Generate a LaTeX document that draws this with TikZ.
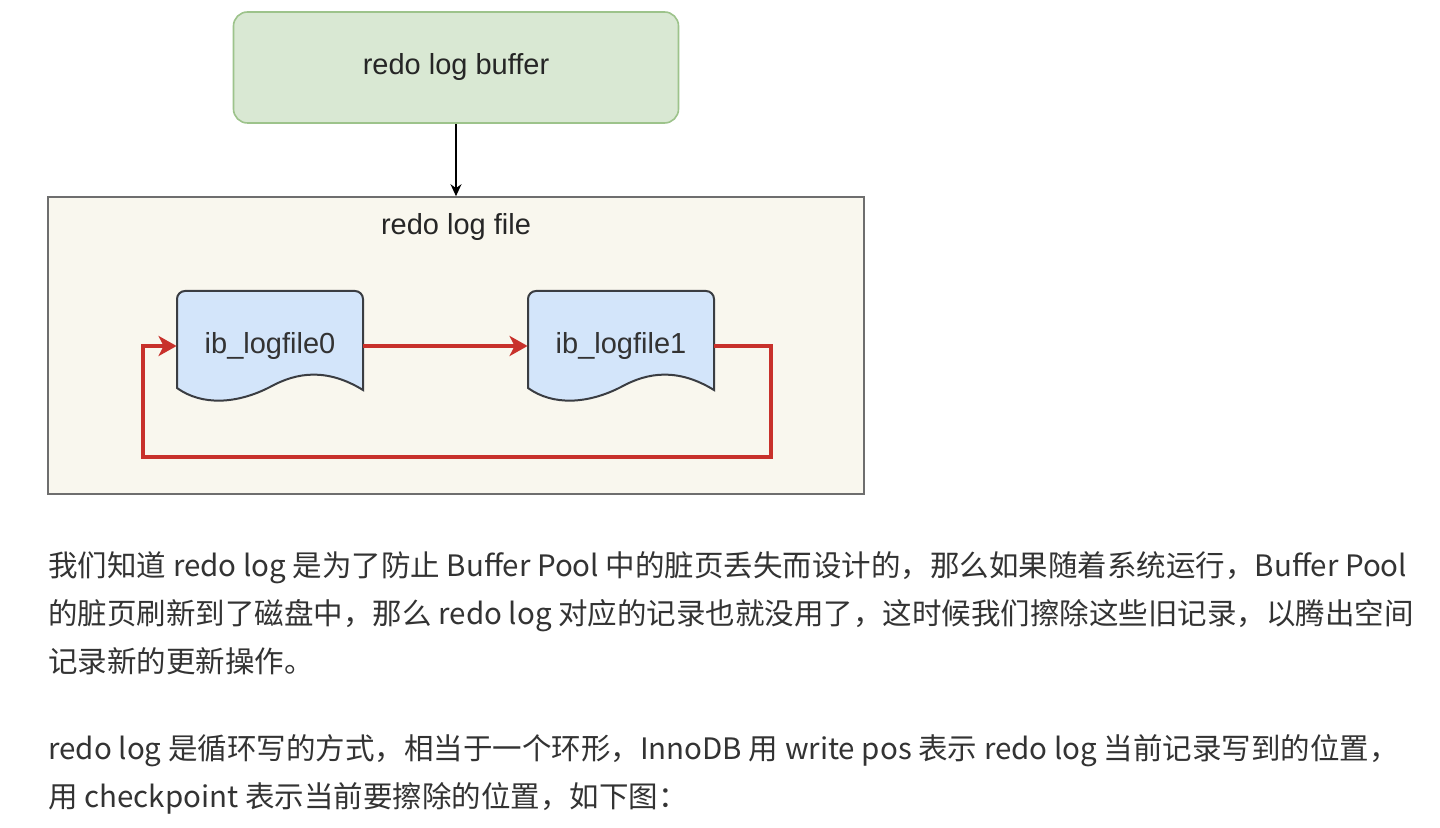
\documentclass[tikz,border=0pt]{standalone}
\usepackage{fontspec}
\setmainfont{Liberation Sans}
\newfontfamily\cjk{Noto Sans CJK SC}
\usetikzlibrary{arrows.meta}
\definecolor{bufgreen}{HTML}{D9E8D3}
\definecolor{bufedge}{HTML}{9DC38B}
\definecolor{filebg}{HTML}{F9F7EE}
\definecolor{fileedge}{HTML}{6E6E6E}
\definecolor{docblue}{HTML}{D3E5FA}
\definecolor{docedge}{HTML}{3A3D42}
\definecolor{loopred}{HTML}{C8312B}
\definecolor{inkgray}{HTML}{333333}
\tikzset{buffer box/.style={draw=bufedge,fill=bufgreen,line width=0.8pt,rounded corners=7pt,
    minimum width=222.5pt,minimum height=55.5pt,text=black!85,font=\fontsize{14.5}{17}\selectfont},
  file box/.style={draw=fileedge,fill=filebg,line width=0.8pt,minimum width=408pt,minimum height=148.5pt},
  label text/.style={text=black!85,font=\fontsize{14.5}{17}\selectfont,inner sep=0pt},
  docpage/.style={draw=docedge,fill=docblue,line width=1pt},
  log file/.style={minimum width=93pt,minimum height=24pt,inner sep=0pt,text=black!80,font=\fontsize{14.5}{17}\selectfont},
  feed/.style={-{Stealth[length=6pt,width=5.5pt]},line width=0.7pt,black},
  red flow/.style={-{Stealth[length=9pt,width=10pt,inset=2.5pt]},loopred,line width=1.7pt},
  body text/.style={anchor=base west,inner sep=0pt,text=inkgray,font=\cjk\fontsize{14.75}{24}\selectfont},
}

\begin{document}
\begin{tikzpicture}[x=0.5pt,y=-0.5pt]
	\useasboundingbox[fill=white] (0,0) rectangle (1440,828);
	
	% diagram
	\node[buffer box] (buffer) at (456,67.5) {redo log buffer};
	\node[file box] (filebox) at (456,345.5) {};
	\node[label text] (filetitle) at (456,227) {redo log file};
	\foreach \x in {177,528}
		\filldraw[docpage,shift={(\x,0)}] (186,390) [rounded corners=4pt] -- (186,291) -- (0,291) [sharp corners] -- (0,388)
		.. controls (25,406) and (60,404) .. (93,387)
		.. controls (120,372) and (150,368) .. (186,390) -- cycle;
	\node[log file] (log0) at (270,346) {ib\_logfile0};
	\node[log file] (log1) at (621,346) {ib\_logfile1};
	\coordinate (loopR) at (771,457);
	\coordinate (loopL) at (143,457);
	
	\draw[feed] (buffer.south) -- (filebox.north);
	\draw[red flow] (log0.east) -- (log1.west);
	\draw[red flow] (log1.east) -| (loopR) -- (loopL) |- (log0.west);
	
	% text below
	\node[body text] (para1a) at (48,576) {我们知道 redo log 是为了防止 Buffer Pool 中的脏页丢失而设计的，那么如果随着系统运行，Buffer Pool};
	\node[body text] (para1b) at (48,624) {的脏页刷新到了磁盘中，那么 redo log 对应的记录也就没用了，这时候我们擦除这些旧记录，以腾出空间};
	\node[body text] (para1c) at (48,672) {记录新的更新操作。};
	\node[body text] (para2a) at (48,759) {redo log 是循环写的方式，相当于一个环形，InnoDB 用 write pos 表示 redo log 当前记录写到的位置，};
	\node[body text] (para2b) at (48,807) {用 checkpoint 表示当前要擦除的位置，如下图：};
\end{tikzpicture}
\end{document}
